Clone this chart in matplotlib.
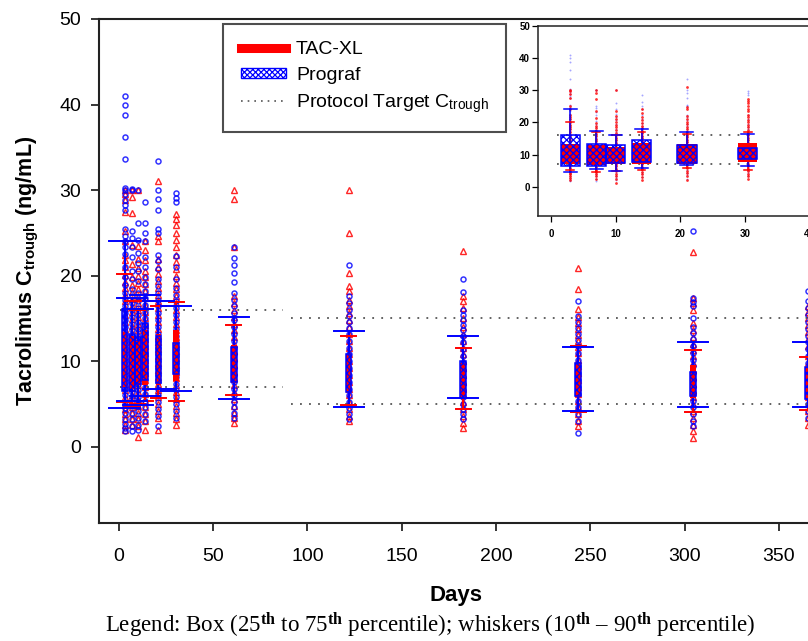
"""
Tacrolimus trough concentrations by study day, TAC-XL vs Prograf.
Box = 25th-75th percentile, whiskers = 10th-90th percentile.
"""
import matplotlib
matplotlib.use('Agg')
import matplotlib.pyplot as plt
from matplotlib.lines import Line2D
from matplotlib.patches import Patch, Rectangle

plt.rcParams.update({
    'font.family': ['Liberation Sans', 'DejaVu Sans'],
    'mathtext.fontset': 'custom',
    'mathtext.rm': 'Liberation Sans',
    'mathtext.bf': 'Liberation Sans:bold',
    'mathtext.sf': 'Liberation Sans',
    'mathtext.it': 'Liberation Serif:bold',
    'hatch.linewidth': 0.9,
})

RED = '#ff0000'
BLUE = '#0000ff'

# visit days (months * 30.44 after day 14)
days = [3, 7, 10, 14, 21, 30.4, 60.9, 121.8, 182.6, 243.5, 304.4, 365.2]

# TAC-XL percentiles
tac_p10 = [5.2, 4.7, 5.0, 5.3, 5.7, 5.3, 6.0, 4.9, 4.4, 4.1, 4.1, 4.3]
tac_q1 = [7.0, 6.8, 7.2, 7.2, 7.2, 7.7, 7.5, 6.4, 5.6, 5.8, 5.7, 5.6]
tac_q3 = [13.4, 13.0, 12.4, 13.7, 13.2, 13.7, 11.9, 10.9, 9.8, 9.8, 9.6, 9.3]
tac_p90 = [20.2, 17.0, 16.0, 17.0, 16.5, 16.9, 14.2, 12.9, 11.6, 11.8, 11.3, 10.5]

# Prograf percentiles
pro_p10 = [4.5, 5.4, 4.9, 5.9, 6.7, 6.5, 5.6, 4.6, 5.7, 4.2, 4.6, 4.7]
pro_q1 = [6.5, 6.5, 7.4, 7.8, 7.5, 8.5, 7.6, 6.4, 5.7, 5.9, 5.9, 5.6]
pro_q3 = [16.1, 13.2, 12.8, 14.5, 12.9, 12.1, 11.7, 10.9, 10.0, 9.8, 8.8, 9.3]
pro_p90 = [24.0, 17.4, 16.1, 17.8, 17.0, 16.5, 15.2, 13.5, 13.0, 11.7, 12.2, 12.2]

# individual trough values (ng/mL), one list per visit day
tac_points = [
    [30.0, 29.6, 28.8, 27.5, 25.2, 24.0, 22.4, 21.8, 21.0, 20.1, 19.3, 18.6, 17.8,
     17.0, 16.2, 15.4, 14.6, 13.8, 13.0, 12.2, 11.4, 10.6, 9.8, 9.0, 8.2, 7.4, 6.6,
     5.8, 5.0, 4.4, 3.8, 3.2, 2.6, 2.0],
    [30.0, 29.2, 27.3, 23.6, 21.4, 19.8, 18.9, 18.1, 17.3, 16.5, 15.7, 14.9, 14.1,
     13.3, 12.5, 11.7, 10.9, 10.1, 9.3, 8.5, 7.7, 6.9, 6.1, 5.3, 4.6, 3.9, 3.2, 2.5],
    [30.0, 23.5, 22.0, 20.9, 20.0, 19.2, 18.4, 17.6, 16.8, 16.0, 15.2, 14.4, 13.6,
     12.8, 12.0, 11.2, 10.4, 9.6, 8.8, 8.0, 7.2, 6.4, 5.6, 4.8, 4.0, 3.2, 2.4, 1.1],
    [24.0, 23.0, 21.8, 20.6, 19.8, 19.0, 18.2, 17.4, 16.6, 15.8, 15.0, 14.2, 13.4,
     12.6, 11.8, 11.0, 10.2, 9.4, 8.6, 7.8, 7.0, 6.2, 5.4, 4.6, 3.8, 3.0, 2.0],
    [31.1, 24.6, 24.0, 22.0, 21.0, 20.2, 19.4, 18.6, 17.8, 17.0, 16.2, 15.4, 14.6,
     13.8, 13.0, 12.2, 11.4, 10.6, 9.8, 9.0, 8.2, 7.4, 6.6, 5.8, 5.0, 4.2, 3.4, 2.0],
    [27.2, 26.6, 25.9, 25.0, 24.2, 23.4, 22.4, 21.6, 20.8, 20.0, 19.2, 18.4, 17.6,
     16.8, 16.0, 15.2, 14.4, 13.6, 12.8, 12.0, 11.2, 10.4, 9.6, 8.8, 8.0, 7.2, 6.4,
     5.6, 4.8, 4.0, 3.2, 2.5],
    [30.0, 29.0, 23.3, 17.6, 16.8, 16.0, 15.2, 14.4, 13.6, 12.8, 12.0, 11.2, 10.4,
     9.6, 8.8, 8.0, 7.2, 6.4, 5.6, 4.8, 4.0, 3.4, 2.8],
    [30.0, 25.0, 20.3, 18.8, 18.2, 17.2, 16.4, 15.6, 14.8, 14.0, 13.2, 12.4, 11.6,
     10.8, 10.0, 9.2, 8.4, 7.6, 6.8, 6.0, 5.2, 4.4, 3.6, 3.0],
    [22.9, 17.6, 17.0, 16.2, 15.0, 14.0, 13.2, 12.4, 11.6, 10.8, 10.0, 9.2, 8.4,
     7.6, 6.8, 6.0, 5.2, 4.4, 3.6, 2.8, 2.2],
    [20.9, 18.5, 16.1, 15.2, 14.5, 13.8, 13.1, 12.4, 11.7, 11.0, 10.2, 9.4, 8.6,
     7.8, 7.0, 6.2, 5.4, 4.6, 3.8, 3.0, 2.4],
    [22.8, 17.4, 16.8, 16.0, 14.5, 13.6, 12.8, 12.0, 11.3, 10.6, 9.8, 9.0, 8.2,
     7.4, 6.6, 5.8, 5.0, 4.2, 3.4, 2.6, 1.8, 1.0],
    [16.4, 15.8, 15.0, 14.2, 13.4, 12.6, 11.8, 10.6, 9.8, 9.0, 8.2, 7.4, 6.6, 5.8,
     5.0, 4.2, 3.4, 2.6],
]
pro_points = [
    [41.0, 40.0, 38.8, 36.2, 33.6, 30.2, 30.0, 29.5, 28.9, 28.3, 27.7, 25.5, 24.6,
     24.0, 23.4, 22.5, 21.0, 19.8, 18.9, 18.0, 17.2, 16.4, 15.6, 14.8, 14.0, 13.2,
     12.4, 11.6, 10.8, 10.0, 9.2, 8.4, 7.6, 6.8, 6.0, 5.2, 4.5, 3.9, 3.3, 2.7, 2.2,
     1.8],
    [30.1, 30.0, 25.2, 24.4, 23.3, 22.2, 20.5, 19.6, 18.4, 17.6, 16.8, 16.0, 15.2,
     14.4, 13.6, 12.8, 12.0, 11.2, 10.4, 9.6, 8.8, 8.0, 7.2, 6.4, 5.6, 4.8, 4.0,
     3.2, 2.4, 1.8],
    [30.0, 26.1, 24.2, 22.6, 21.5, 20.6, 19.4, 18.0, 17.0, 16.2, 15.4, 14.6, 13.8,
     13.0, 12.2, 11.4, 10.6, 9.8, 9.0, 8.2, 7.4, 6.6, 5.8, 5.0, 4.2, 3.4, 2.6, 2.0],
    [28.6, 26.2, 25.0, 24.0, 22.2, 21.0, 19.8, 19.0, 18.2, 17.4, 16.6, 15.8, 15.0,
     14.2, 13.4, 12.6, 11.8, 11.0, 10.2, 9.4, 8.6, 7.8, 7.0, 6.2, 5.4, 4.6, 3.8, 3.0],
    [33.4, 30.0, 29.0, 27.7, 25.5, 25.0, 22.4, 21.7, 20.8, 19.6, 18.8, 18.0, 17.2,
     16.4, 15.6, 14.8, 14.0, 13.2, 12.4, 11.6, 10.8, 10.0, 9.2, 8.4, 7.6, 6.8, 6.0,
     5.2, 4.4, 3.6, 2.4],
    [29.7, 29.1, 28.6, 22.3, 21.0, 19.6, 18.6, 17.8, 17.0, 16.2, 15.4, 14.6, 13.8,
     13.0, 12.2, 11.4, 10.6, 9.8, 9.0, 8.2, 7.4, 6.6, 5.8, 5.0, 4.2, 3.4],
    [23.4, 22.1, 21.3, 20.3, 19.3, 18.0, 17.2, 16.4, 15.6, 14.8, 14.0, 13.2, 12.4,
     11.6, 10.8, 10.0, 9.2, 8.4, 7.6, 6.8, 6.0, 5.2, 4.6, 4.0, 3.4],
    [21.3, 17.6, 16.8, 16.0, 15.3, 14.6, 13.9, 13.2, 12.4, 11.6, 10.8, 10.0, 9.2,
     8.4, 7.6, 6.8, 6.0, 5.2, 4.5, 3.8, 3.2],
    [19.6, 18.1, 16.0, 15.4, 14.8, 14.2, 13.6, 13.0, 12.2, 11.4, 10.6, 9.8, 9.0,
     8.2, 7.4, 6.6, 5.8, 5.0, 4.4, 3.8, 3.2],
    [17.1, 15.3, 14.6, 13.9, 13.2, 12.5, 11.8, 11.0, 10.2, 9.4, 8.6, 7.8, 7.0, 6.2,
     5.4, 4.6, 3.8, 3.0, 1.6],
    [25.2, 17.4, 16.9, 16.5, 15.1, 14.0, 13.3, 12.6, 11.8, 11.0, 10.2, 9.4, 8.6,
     7.8, 7.0, 6.2, 5.4, 4.6, 3.8, 3.0, 2.4],
    [18.2, 17.0, 16.2, 15.4, 14.6, 13.8, 13.0, 12.2, 11.4, 10.6, 9.8, 9.0, 8.2,
     7.4, 6.6, 5.8, 5.0, 4.2, 3.4],
]

# protocol target ranges: (start day, end day, upper, lower)
target_early = (0.8, 87, 16, 7)
target_late = (91, 370, 15, 5)
inset_target = (1.0, 30.5, 16, 7)
inset_n = 6  # visits shown in the inset (day 3 - day 30)


def draw_group(ax, xs, q1, q3, p10, p90, box_w, cap_w, color, hatched, lw):
    for x, a, b, lo, hi in zip(xs, q1, q3, p10, p90):
        ax.plot([x, x], [lo, hi], color=color, lw=lw, zorder=4)
        ax.plot([x - cap_w / 2, x + cap_w / 2], [hi, hi], color=color, lw=lw, zorder=6)
        ax.plot([x - cap_w / 2, x + cap_w / 2], [lo, lo], color=color, lw=lw, zorder=6)
        if hatched:
            ax.add_patch(Rectangle((x - box_w / 2, a), box_w, b - a, facecolor='none',
                                   edgecolor=color, hatch='xxxxx', lw=1.1, zorder=5))
        else:
            ax.add_patch(Rectangle((x - box_w / 2, a), box_w, b - a, facecolor=color,
                                   edgecolor='none', zorder=5))


def draw_targets(ax, segments):
    for x0, x1, hi, lo in segments:
        for y in (hi, lo):
            ax.plot([x0, x1], [y, y], color='#555555', ls=(0, (1, 4)), lw=1.3, zorder=3)


fig = plt.figure(figsize=(8.08, 6.41), dpi=100)

# ---- main panel ----
ax = fig.add_axes([0.1231, 0.1841, 0.8818, 0.7863])
for x, pts in zip(days, tac_points):
    ax.plot([x] * len(pts), pts, ls='none', marker='^', ms=5, mfc='none',
            mec=RED, mew=1.0, alpha=0.85, zorder=2)
for x, pts in zip(days, pro_points):
    ax.plot([x] * len(pts), pts, ls='none', marker='o', ms=3.6, mfc='none',
            mec=BLUE, mew=1.1, alpha=0.8, zorder=2.5)
draw_targets(ax, [target_early, target_late])
draw_group(ax, days, tac_q1, tac_q3, tac_p10, tac_p90, 3.0, 8.0, RED, False, 1.4)
draw_group(ax, days, pro_q1, pro_q3, pro_p10, pro_p90, 3.0, 16.0, BLUE, True, 1.4)

ax.set_xlim(-10.3, 367.5)
ax.set_ylim(-8.9, 50)
ax.set_xticks(range(0, 351, 50))
ax.set_yticks(range(0, 51, 10))
ax.tick_params(labelsize=14, length=6, width=1.1, direction='out')
ax.tick_params(axis='x', pad=12)
ax.tick_params(axis='y', pad=7)
for side in ('left', 'bottom', 'top', 'right'):
    ax.spines[side].set_linewidth(1.5)
    ax.spines[side].set_color('#222222')

fig.text(27 / 808, 0.577, r'Tacrolimus C$_{\mathbf{trough}}$ (ng/mL)', rotation=90,
         ha='center', va='center', fontsize=15.5, fontweight='bold')
fig.text(456 / 808, 1 - 595 / 641, 'Days', ha='center', va='center',
         fontsize=16, fontweight='bold')
fig.text(430 / 808, 1 - 625 / 641,
         r'Legend: Box (25$^{th}$ to 75$^{th}$ percentile); '
         r'whiskers (10$^{th}$ – 90$^{th}$ percentile)',
         ha='center', va='center', fontsize=16.5, family='Liberation Serif')

handles = [
    Line2D([], [], color=RED, lw=6.5),
    Patch(facecolor='white', edgecolor=BLUE, hatch='xxxxxx', lw=1),
    Line2D([], [], color='#555555', ls=(0, (1, 3)), lw=1.2),
]
labels = ['TAC-XL', 'Prograf', r'Protocol Target C$_{\mathsf{trough}}$']
leg = fig.legend(handles, labels, loc='upper left', bbox_to_anchor=(223 / 808, 1 - 24 / 641),
                 borderaxespad=0, fontsize=14, frameon=True, fancybox=False,
                 edgecolor='#222222', handlelength=2.35, handletextpad=0.5,
                 handleheight=0.45, labelspacing=0.42, borderpad=0.9)
leg.get_frame().set_linewidth(1.5)

# ---- inset: first month ----
ins = fig.add_axes([0.6662, 0.6630, 0.352, 0.2969])
for x, pts in zip(days[:inset_n], pro_points[:inset_n]):
    ins.plot([x] * len(pts), pts, ls='none', marker='o', ms=1.4, mfc=BLUE,
             mec='none', alpha=0.35, zorder=2)
for x, pts in zip(days[:inset_n], tac_points[:inset_n]):
    ins.plot([x] * len(pts), pts, ls='none', marker='o', ms=2.0, mfc=RED,
             mec='none', alpha=0.8, zorder=2.5)
draw_targets(ins, [inset_target])
draw_group(ins, days[:inset_n], tac_q1[:inset_n], tac_q3[:inset_n], tac_p10[:inset_n],
           tac_p90[:inset_n], 3.0, 1.2, RED, False, 1.1)
draw_group(ins, days[:inset_n], pro_q1[:inset_n], pro_q3[:inset_n], pro_p10[:inset_n],
           pro_p90[:inset_n], 3.0, 2.0, BLUE, True, 1.1)
ins.set_xlim(-1.95, 42)
ins.set_ylim(-9.1, 50)
ins.set_xticks(range(0, 41, 10))
ins.set_yticks(range(0, 51, 10))
ins.tick_params(labelsize=7, length=4, width=0.9, pad=2)
ins.tick_params(axis='x', pad=5)
for lab in ins.get_xticklabels() + ins.get_yticklabels():
    lab.set_fontweight('bold')
for side in ins.spines:
    ins.spines[side].set_linewidth(1.1)
    ins.spines[side].set_color('#222222')

fig.savefig('out.png', dpi=100)
plt.close(fig)
